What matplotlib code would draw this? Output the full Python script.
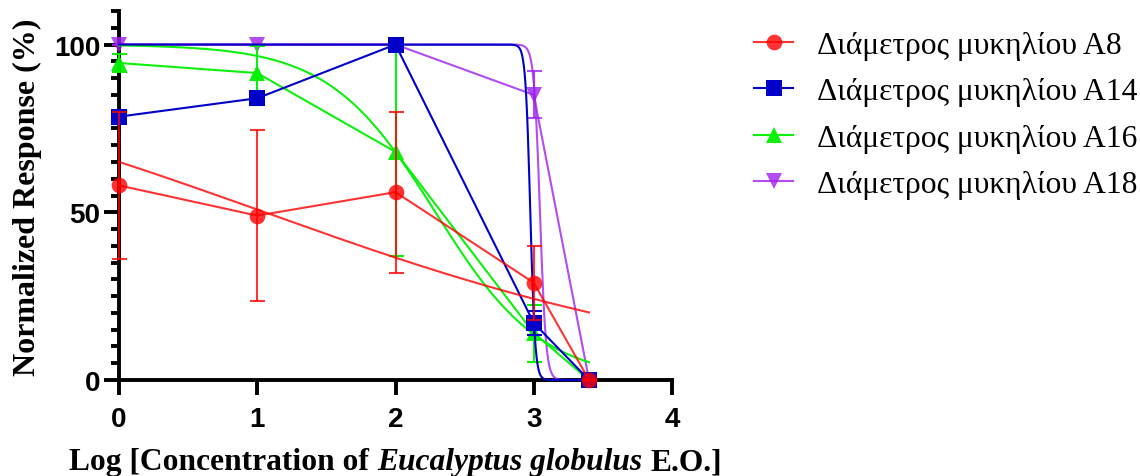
import numpy as np
import matplotlib
matplotlib.use("Agg")
import matplotlib.pyplot as plt
from matplotlib.lines import Line2D
from matplotlib.ticker import MultipleLocator

# Log concentration of the essential oil
log_conc = [0, 1, 2, 3, 3.4]

series_names = [
    "Διάμετρος μυκηλίου A8",
    "Διάμετρος μυκηλίου A14",
    "Διάμετρος μυκηλίου A16",
    "Διάμετρος μυκηλίου A18",
]

# Mean normalized response (%) and SD for each isolate
a8_mean = [58, 49, 56, 29, 0]
a8_sd = [22, 25.5, 24, 11, 0]
a14_mean = [78.5, 84, 100, 17, 0]
a14_sd = [2, 2, 0, 3.5, 0]
a16_mean = [94.5, 91.5, 68, 14, 0]
a16_sd = [2.7, 8, 31, 8.5, 0]
a18_mean = [100, 100, 100, 85, 0]
a18_sd = [0, 0, 0, 7, 0]

# Fitted dose-response parameters (log IC50, Hill slope)
a8_fit = (1.055, 0.255)
a14_fit = (2.975, 25.0)
a16_fit = (2.289, 1.127)
a18_fit = (3.045, 20.0)

x_ticks = [0, 1, 2, 3, 4]
y_ticks = [0, 50, 100]

colors = ["#FF0000", "#0000C8", "#00F000", "#A020F0"]
alphas = [0.8, 1.0, 0.95, 0.8]
markers = ["o", "s", "^", "v"]
means = [a8_mean, a14_mean, a16_mean, a18_mean]
sds = [a8_sd, a14_sd, a16_sd, a18_sd]
fits = [a8_fit, a14_fit, a16_fit, a18_fit]
zorders = [8, 6, 5, 4]
marker_size = 11.3


def response(x, log_ic50, hill):
    return 100.0 / (1.0 + 10 ** ((x - log_ic50) * hill))


W, H = 1140, 477
fig = plt.figure(figsize=(W / 100, H / 100), dpi=100)
ax = fig.add_axes([119 / W, 1 - 381 / H, (672 - 119) / W, (381 - 12) / H])

xs = np.linspace(log_conc[0], log_conc[-1], 600)
handles = []
for i in range(4):
    c, a, m, z = colors[i], alphas[i], markers[i], zorders[i]
    # fitted curve
    ax.plot(xs, response(xs, *fits[i]), color=c, alpha=a, lw=1.5,
            zorder=z, clip_on=False)
    # SD bars
    cont = ax.errorbar(log_conc, means[i], yerr=sds[i], fmt="none",
                       ecolor=c, alpha=a, capsize=5.4, capthick=1.5,
                       elinewidth=1.5, zorder=z)
    for art in cont.get_children():
        art.set_clip_on(False)
    # means connected with markers
    ax.plot(log_conc, means[i], "-", marker=m, color=c, alpha=a, lw=1.5,
            ms=marker_size, mew=0, zorder=z + 0.5, clip_on=False)
    handles.append(Line2D([], [], color=c, alpha=a, lw=1.5, marker=m,
                          ms=marker_size, mew=0))

ax.set_xlim(0, 4)
ax.set_ylim(0, 110)
ax.set_xticks(x_ticks)
ax.set_yticks(y_ticks)
ax.yaxis.set_minor_locator(MultipleLocator(5))

for s in ["top", "right"]:
    ax.spines[s].set_visible(False)
for s in ["left", "bottom"]:
    ax.spines[s].set_linewidth(2.8)
    ax.spines[s].set_capstyle("projecting")

ax.tick_params(axis="both", which="major", length=10.5, width=2.8,
               direction="out", color="black")
ax.tick_params(axis="y", which="minor", length=6, width=2.8)
ax.tick_params(axis="x", pad=8)
ax.tick_params(axis="y", pad=3)
for lab in ax.get_xticklabels() + ax.get_yticklabels():
    lab.set_fontfamily("Liberation Sans")
    lab.set_fontweight("bold")
    lab.set_fontsize(20)

# y-axis title
fig.text(27 / W, 1 - 197 / H, "Normalized Response (%)", rotation=90,
         ha="center", va="center", family="Liberation Serif",
         weight="bold", fontsize=23)

# x-axis title with italic species name
renderer = fig.canvas.get_renderer()
parts = [("Log [Concentration of", "normal"),
         ("Eucalyptus globulus", "italic"),
         ("E.O.]", "normal")]
fs_x = 22.7


def text_width(s, style):
    t = fig.text(0, 0, s, family="Liberation Serif", weight="bold",
                 style=style, fontsize=fs_x)
    w = t.get_window_extent(renderer).width
    t.remove()
    return w


space = text_width("x x", "normal") - text_width("xx", "normal")
widths = [text_width(s, st) for s, st in parts]
total = sum(widths) + space * (len(parts) - 1)
x0 = 395.5 - total / 2
for (s, st), w in zip(parts, widths):
    fig.text(x0 / W, 1 - 463 / H, s, family="Liberation Serif",
             weight="bold", style=st, fontsize=fs_x, ha="left",
             va="center")
    x0 += w + space

fig.legend(handles, series_names, loc="upper left",
           bbox_to_anchor=(754 / W, 1 - 32 / H), frameon=False,
           prop={"family": "Liberation Serif", "size": 22.7},
           handlelength=1.25, handletextpad=0.75, labelspacing=0.545,
           borderpad=0, borderaxespad=0)

fig.savefig("out.png", dpi=100)
